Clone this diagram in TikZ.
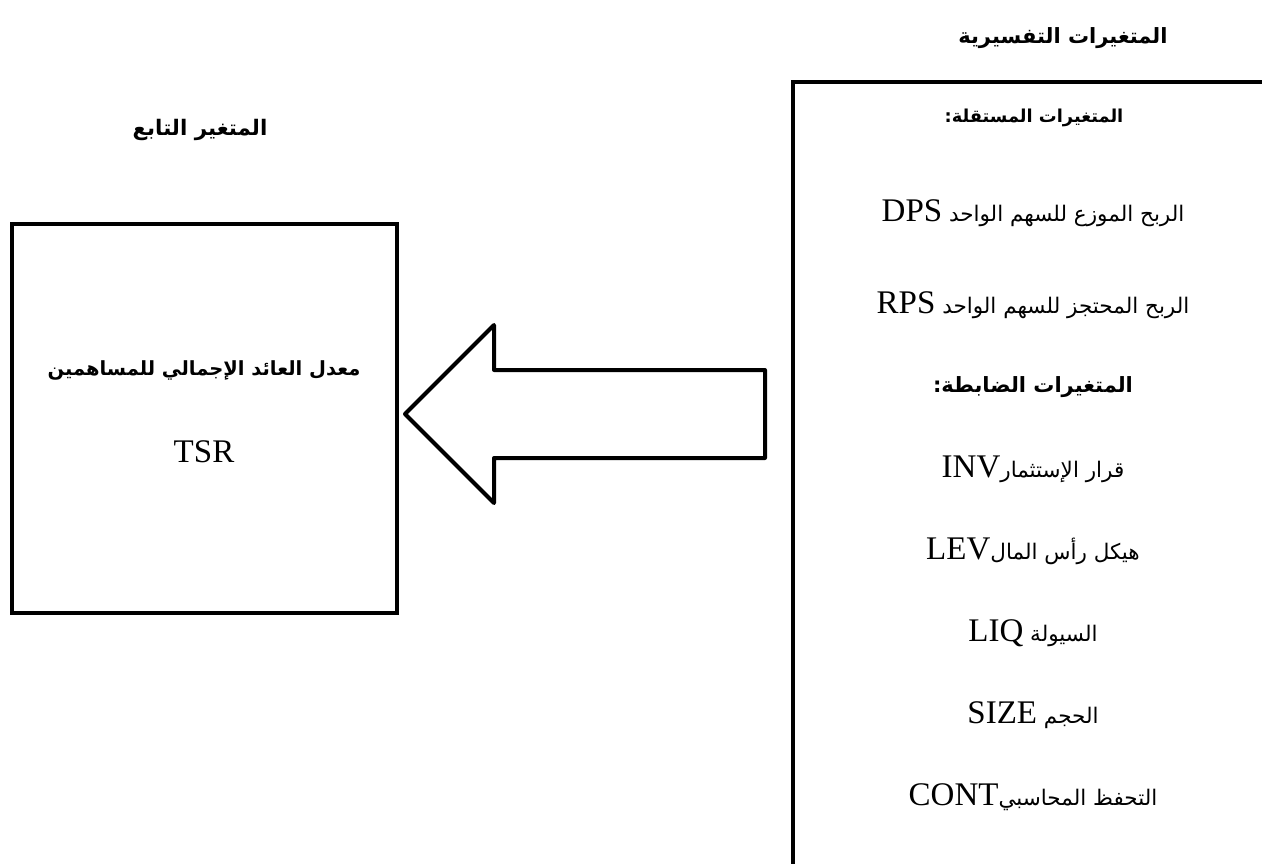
\documentclass[tikz,border=0pt]{standalone}
\usepackage{fontspec}
\setmainfont{Liberation Serif}
\newfontfamily\arabicfont[Script=Arabic]{DejaVu Sans}
\TeXXeTstate=1
\usetikzlibrary{positioning}

\newcommand{\artext}[1]{{\arabicfont\beginR #1\endR}}
\newcommand{\lat}[1]{{\fontsize{33}{38}\selectfont\normalfont\beginL #1\endL}}

\begin{document}
\begin{tikzpicture}[x=1pt, y=-1pt,
    thick_box/.style={draw, line width=4.5pt},
    block_arrow/.style={draw, line width=4pt, line join=round},
    title_text/.style={font=\fontsize{#1}{#1}\selectfont\bfseries, inner sep=0pt},
    title_text/.default=21,
    item_text/.style={font=\fontsize{21.5}{26}\selectfont, inner sep=0pt},
    node distance=82pt, on grid]

    \useasboundingbox (0,0) rectangle (1262,863);

    % Dependent variable
    \node[title_text=21.4] (dep_title) at (200,130) {\artext{المتغير التابع}};
    \draw[thick_box] (12,224) rectangle (397,613);
    \node[title_text=19.5] (tsr_name) at (204,370) {\artext{معدل العائد الإجمالي للمساهمين}};
    \node[item_text, below=of tsr_name] (tsr) {\lat{TSR}};

    % Arrow
    \draw[block_arrow] (765,370) -- (494,370) -- (494,325) -- (405,414)
        -- (494,503) -- (494,458) -- (765,458) -- cycle;

    % Explanatory variables
    \node[title_text] (expl_title) at (1063,38) {\artext{المتغيرات التفسيرية}};
    \draw[thick_box] (1270,82) -- (793,82) -- (793,870);
    \node[title_text=17.8] (indep_title) at (1034,118) {\artext{المتغيرات المستقلة:}};
    \node[item_text] (dps) at (1033,213) {\artext{الربح الموزع للسهم الواحد \lat{DPS}}};
    \node[item_text, below=92pt of dps] (rps) {\artext{الربح المحتجز للسهم الواحد \lat{RPS}}};
    \node[title_text, below=of rps] (ctrl_title) {\artext{المتغيرات الضابطة:}};
    \node[item_text, below=of ctrl_title] (inv) {\artext{قرار الإستثمار\lat{INV}}};
    \node[item_text, below=of inv] (lev) {\artext{هيكل رأس المال\lat{LEV}}};
    \node[item_text, below=of lev] (liq) {\artext{السيولة \lat{LIQ}}};
    \node[item_text, below=of liq] (size) {\artext{الحجم \lat{SIZE}}};
    \node[item_text, below=of size] (cont) {\artext{التحفظ المحاسبي\lat{CONT}}};

\end{tikzpicture}
\end{document}
